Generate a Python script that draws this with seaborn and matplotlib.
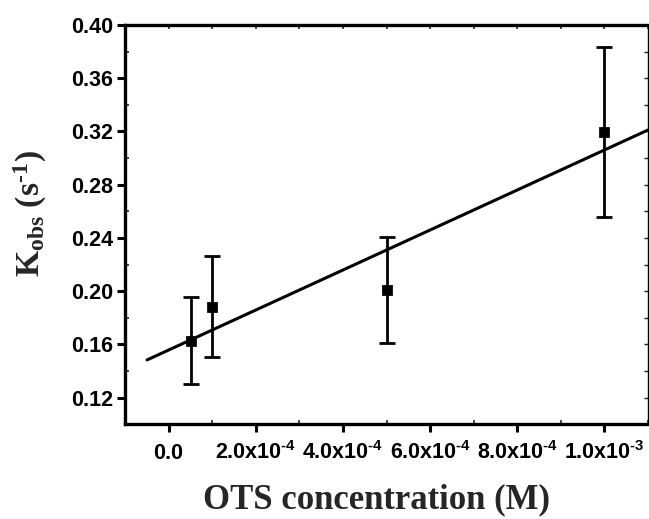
import numpy as np
import pandas as pd
import matplotlib
matplotlib.use("Agg")
import matplotlib.pyplot as plt
import seaborn as sns

# data
conc = [5e-5, 1e-4, 5e-4, 1e-3]
kobs = [0.1626, 0.1884, 0.2009, 0.3194]
kerr = [0.0327, 0.0380, 0.0400, 0.0640]
fit_range = [-5e-5, 1.1e-3]
xtick_vals = [0.0, 2e-4, 4e-4, 6e-4, 8e-4, 1e-3]
xtick_labels = ["$\\mathregular{0.0}$",
                "2.0x10$\\mathregular{^{\u20104}}$",
                "4.0x10$\\mathregular{^{\u20104}}$",
                "6.0x10$\\mathregular{^{\u20104}}$",
                "8.0x10$\\mathregular{^{\u20104}}$",
                "1.0x10$\\mathregular{^{\u20103}}$"]
ytick_vals = [0.12, 0.16, 0.20, 0.24, 0.28, 0.32, 0.36, 0.40]

sns.set_style("white")
plt.rcParams['font.family'] = ['Liberation Sans', 'DejaVu Sans']
plt.rcParams['axes.unicode_minus'] = False

df = pd.DataFrame({"conc": conc, "kobs": kobs, "err": kerr})

fig = plt.figure(figsize=(6.49, 5.19), dpi=100)
ax = fig.add_axes([0.193, 0.1825, 0.8054, 0.7693])

# linear fit from data
slope, intercept = np.polyfit(df["conc"], df["kobs"], 1)
fx = np.array(fit_range)
fit_df = pd.DataFrame({"x": fx, "y": slope * fx + intercept})
sns.lineplot(data=fit_df, x="x", y="y", ax=ax, color="black", lw=2.2)

ax.errorbar(df["conc"], df["kobs"], yerr=df["err"], fmt="none",
            ecolor="black", elinewidth=2.0, capsize=5.5, capthick=2.0)
sns.scatterplot(data=df, x="conc", y="kobs", ax=ax, marker="s", s=48,
                color="black", edgecolor="black", zorder=5)

ax.set_xlim(-1e-4, 1.1e-3)
ax.set_ylim(0.10, 0.40)
ax.set_xticks(xtick_vals)
ax.set_xticklabels(xtick_labels)
ax.set_yticks(ytick_vals)
ax.set_yticklabels([f"{v:.2f}" for v in ytick_vals])
ax.set_xticks(np.arange(-1e-4, 1.101e-3, 1e-4), minor=True)
ax.set_yticks(np.arange(0.10, 0.401, 0.02), minor=True)

for lab in ax.get_xticklabels() + ax.get_yticklabels():
    lab.set_fontfamily("Liberation Sans")
    lab.set_fontweight("bold")
    lab.set_fontsize(15.5)
for lab in ax.get_xticklabels():
    lab.set_verticalalignment("baseline")

ax.tick_params(which="major", direction="out", length=6, width=2.2,
               colors="black", bottom=True, left=True)
ax.tick_params(axis="y", which="major", pad=3)
ax.tick_params(axis="x", which="major", pad=19)
ax.tick_params(which="minor", direction="in", length=3, width=1.2,
               bottom=True, left=True)

for s in ["left", "bottom", "top"]:
    ax.spines[s].set_linewidth(2.4)
    ax.spines[s].set_color("black")
ax.spines["right"].set_linewidth(1.0)
ax.spines["right"].set_color("black")

# mirrored ticks on top/right
top = ax.secondary_xaxis("top")
top.set_xticks(np.arange(-1e-4, 1.101e-3, 1e-4))
top.tick_params(direction="in", length=3, width=1.2, labeltop=False,
                top=True)
top.spines["top"].set_visible(False)
right = ax.secondary_yaxis("right")
right.set_yticks(np.arange(0.10, 0.401, 0.02))
right.tick_params(direction="in", length=3, width=1.0, labelright=False,
                  right=True)
right.spines["right"].set_visible(False)

ax.set_xlabel("OTS concentration (M)", fontfamily="Liberation Serif",
              fontweight="bold", fontsize=25)
ax.xaxis.set_label_coords(0.48, -0.149)
ax.set_ylabel("K$\\mathregular{_{obs}}$ (s$\\mathregular{^{\u20101}}$)",
              fontfamily="Liberation Serif", fontweight="bold", fontsize=24.3)
ax.yaxis.set_label_coords(-0.1455, 0.528)

fig.savefig("out.png", dpi=100)
